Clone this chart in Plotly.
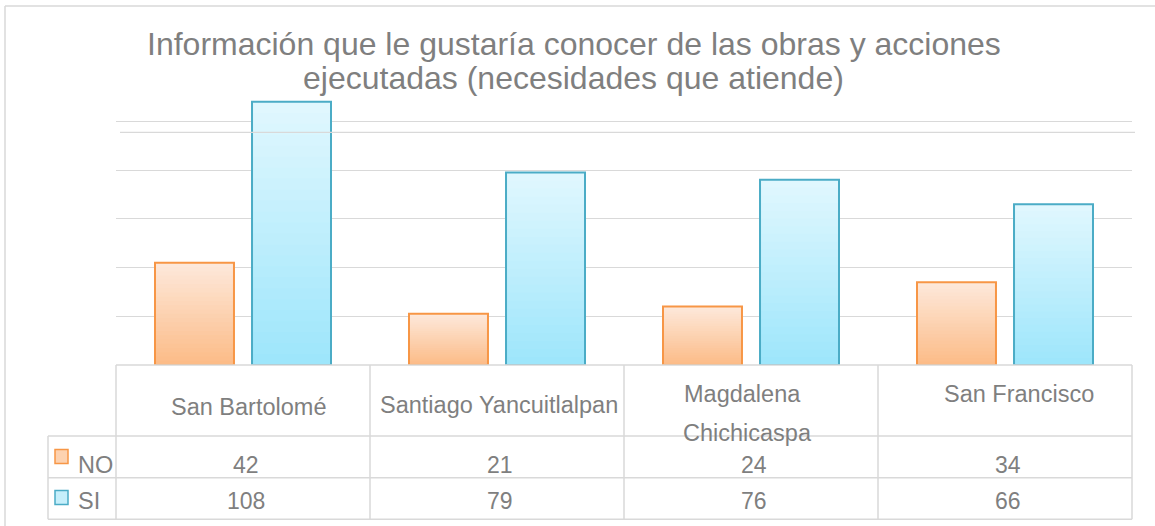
import plotly.graph_objects as go

# ---------------- data ----------------
categories = ["San Bartolomé", "Santiago Yancuitlalpan", "Magdalena Chichicaspa", "San Francisco"]
header_lines = [["San Bartolomé"], ["Santiago Yancuitlalpan"], ["Magdalena", "Chichicaspa"], ["San Francisco"]]
series_names = ["NO", "SI"]
no_values = [42, 21, 24, 34]
si_values = [108, 79, 76, 66]
title_lines = ["Información que le gustaría conocer de las obras y acciones",
               "ejecutadas (necesidades que atiende)"]

# ---------------- layout constants (pixels) ----------------
W, H = 1155, 526
PL, PR, PT, PB = 116, 1132, 97, 365
Y_MAX = 110
FONT = "Liberation Sans, Arial, sans-serif"
TXT = "#7f7f7f"
LINE = "#d9d9d9"


def fx(px):
    return px / W


def fy(py):
    return 1 - py / H


def mix(c1, c2, t):
    return "rgb(%d,%d,%d)" % tuple(round(a + (b - a) * t) for a, b in zip(c1, c2))


styles = {
    "NO": dict(top=(253, 232, 218), bottom=(252, 188, 136), line="#f79646", key="#fdd2b0"),
    "SI": dict(top=(224, 247, 254), bottom=(158, 230, 251), line="#4bacc6", key="#c6effb"),
}

fig = go.Figure()
N = 24
for name, vals in zip(series_names, [no_values, si_values]):
    st = styles[name]
    for k in range(N):
        frac = (N - k) / N
        fig.add_trace(go.Bar(
            x=categories, y=[v * frac for v in vals], offsetgroup=name,
            marker=dict(color=mix(st["top"], st["bottom"], k / (N - 1)), line=dict(width=0)),
            showlegend=False, hoverinfo="skip"))
    fig.add_trace(go.Bar(
        x=categories, y=vals, offsetgroup=name, name=name,
        marker=dict(color="rgba(0,0,0,0)", line=dict(color=st["line"], width=2)),
        showlegend=False))

annotations = []
# title
for txt, cy in zip(title_lines, [43.7, 78.5]):
    annotations.append(dict(text=txt, x=fx(573.5), y=fy(cy), xref="paper", yref="paper",
                            xanchor="center", yanchor="middle", showarrow=False,
                            font=dict(family=FONT, size=32, color=TXT)))

# table header (category labels)
header_y = [[406.5], [405], [394, 433], [394]]
header_dx = [[5], [1.5], [-9, -4], [14]]
for cat, lines, ys, dxs in zip(categories, header_lines, header_y, header_dx):
    for ln, cy, dx in zip(lines, ys, dxs):
        annotations.append(dict(text=ln, x=cat, xref="x", y=fy(cy), yref="paper",
                                xanchor="center", yanchor="middle", xshift=dx, showarrow=False,
                                font=dict(family=FONT, size=23.5, color=TXT)))

# table rows
row_y = [465, 500.5]
for name, vals, cy in zip(series_names, [no_values, si_values], row_y):
    annotations.append(dict(text=name, x=fx(76), xref="paper", y=fy(cy), yref="paper",
                            xanchor="left", yanchor="middle", showarrow=False,
                            font=dict(family=FONT, size=23.5, color=TXT)))
    for cat, v in zip(categories, vals):
        annotations.append(dict(text=str(v), x=cat, xref="x", y=fy(cy), yref="paper",
                                xanchor="center", yanchor="middle", xshift=3, showarrow=False,
                                font=dict(family=FONT, size=23, color=TXT)))

shapes = []


def hline(x0, x1, y, color=LINE, w=1.5):
    shapes.append(dict(type="line", xref="paper", yref="paper", x0=fx(x0), x1=fx(x1),
                       y0=fy(y), y1=fy(y), line=dict(color=color, width=w)))


def vline(x, y0, y1, color=LINE, w=1.5):
    shapes.append(dict(type="line", xref="paper", yref="paper", x0=fx(x), x1=fx(x),
                       y0=fy(y0), y1=fy(y1), line=dict(color=color, width=w)))


# outer chart border
hline(5, 1160, 6)
vline(5, 6, 530)
# extra line under top gridline
hline(120, 1135, 132.3, w=1.3)
# table grid
hline(PL, PR, PB)
hline(48, PR, 436)
hline(48, PR, 477.7)
hline(48, PR, 519.3)
vline(48, 436, 519.3)
for xb in [116, 370, 624, 878, 1132]:
    vline(xb, PB, 519.3)

# legend keys
for name, (ky0, ky1) in zip(series_names, [(449.5, 463.5), (490.5, 504.5)]):
    st = styles[name]
    shapes.append(dict(type="rect", xref="paper", yref="paper", x0=fx(55), x1=fx(68),
                       y0=fy(ky1), y1=fy(ky0), fillcolor=st["key"],
                       line=dict(color=st["line"], width=1.5)))

fig.update_layout(
    width=W, height=H,
    margin=dict(l=0, r=0, t=0, b=0, pad=0),
    paper_bgcolor="white", plot_bgcolor="white",
    barmode="group", bargap=0.236, bargroupgap=0.186,
    xaxis=dict(domain=[fx(PL), fx(PR)], showticklabels=False, showgrid=False,
               zeroline=False, showline=False, ticks=""),
    yaxis=dict(domain=[fy(PB), fy(PT)], range=[0, Y_MAX], dtick=20, tick0=0,
               showticklabels=False, showgrid=True, gridcolor=LINE, gridwidth=1.3,
               zeroline=False, showline=False, ticks=""),
    annotations=annotations, shapes=shapes,
    showlegend=False,
)

fig.write_html("out.html", config={"displayModeBar": False},
               post_script="document.body.style.margin='0';document.body.style.overflow='hidden';")
